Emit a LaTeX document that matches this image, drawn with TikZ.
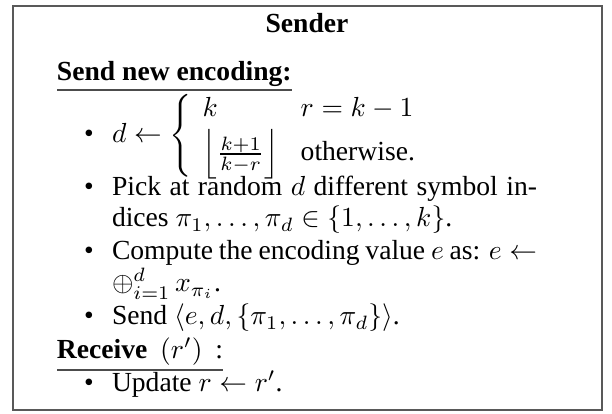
\documentclass[tikz,border=0pt]{standalone}
\usepackage{amsmath}
\usepackage{fontspec}
\setmainfont{Liberation Serif}
\usetikzlibrary{calc}
\begin{document}
\begin{tikzpicture}[x=0.3623pt,y=-0.3623pt,
  txt/.style={anchor=base west,inner sep=0pt,outer sep=0pt},
  bul/.style={anchor=base,inner sep=0pt,outer sep=0pt},
  frame/.style={draw=black!65,line width=0.7pt},
  uline/.style={draw=black!70,line width=0.45pt}]
\useasboundingbox (0,0) rectangle (612,414);
\draw[frame] (13,6) rectangle (602,410);
\node[anchor=base,inner sep=0pt] (title) at (307,33) {\textbf{Sender}};
\node[txt] (snew) at (57,81) {\textbf{Send new encoding:}};
\draw[uline] ($(snew.base west)+(0,9)$) -- ($(snew.base east)+(0,9)$);
\node[bul] (b1) at (89,143) {\textbullet};
\node[txt] (l1) at (112,143) {\setlength{\arraycolsep}{4pt}$d \leftarrow \left\{\begin{array}{ll} k & r=k-1\\[1pt] \left\lfloor\frac{k+1}{k-r}\right\rfloor & \text{otherwise.}\end{array}\right.$};
\node[bul] (b2) at (89,196) {\textbullet};
\node[txt] (l2) at (112,196) {\makebox[154pt][s]{Pick at random $d$ different symbol in-}};
\node[txt] (l3) at (112,227) {dices $\pi_1,\ldots,\pi_d\in\{1,\ldots,k\}$.};
\node[bul] (b3) at (89,260) {\textbullet};
\node[txt] (l4) at (112,260) {\makebox[154pt][s]{Compute the encoding value $e$ as: $e \leftarrow$}};
\node[txt] (l5) at (112,292) {$\mathop{\oplus}_{i=1}^{d} x_{\pi_i}$.};
\node[bul] (b4) at (89,325) {\textbullet};
\node[txt] (l6) at (112,325) {Send $\langle e,d,\{\pi_1,\ldots,\pi_d\}\rangle$.};
\node[txt] (rec) at (57,359) {\makebox[60.2pt][s]{\textbf{Receive} $(r')$ :}};
\draw[uline] ($(rec.base west)+(0,11)$) -- ($(rec.base east)+(0,11)$);
\node[bul] (b5) at (89,392) {\textbullet};
\node[txt] (l7) at (112,392) {Update $r\leftarrow r'$.};
\end{tikzpicture}
\end{document}
